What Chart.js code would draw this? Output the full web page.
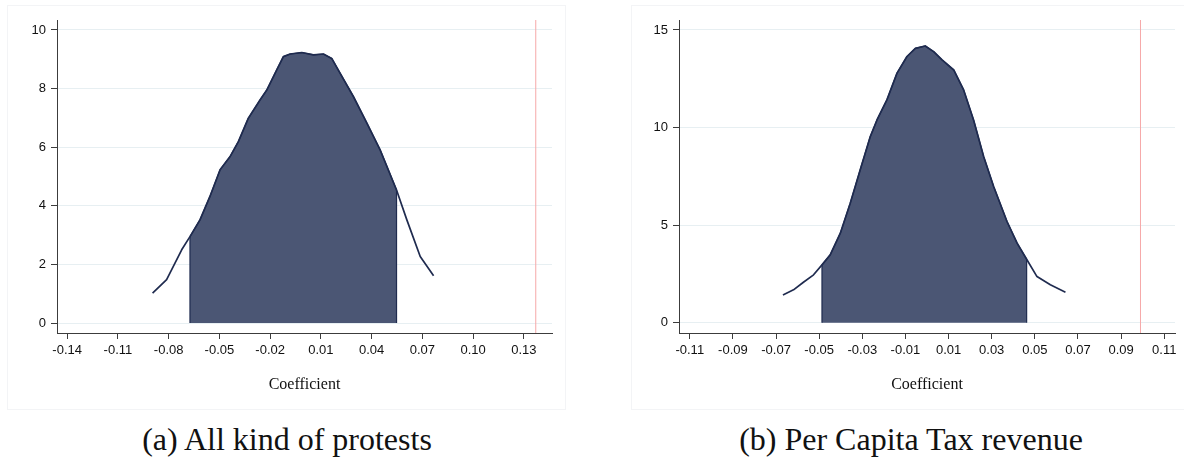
<!DOCTYPE html>
<html>
<head>
<meta charset="utf-8">
<script src="https://cdn.jsdelivr.net/npm/chart.js@4"></script>
<style>
    html, body { margin: 0; padding: 0; background: #fff; }
    body { width: 1184px; height: 460px; position: relative; overflow: hidden; }
    .panel { position: absolute; top: 5px; height: 405px; box-sizing: border-box; border: 1px solid #f3f4f6; background: #fff; }
    #panelA { left: 7px; width: 559px; }
    #panelB { left: 631px; width: 560px; }
    .panel canvas { position: absolute; left: -1px; top: -1px; }
    .caption { position: absolute; top: 419px; font-family: "Liberation Serif", serif; font-size: 32px; line-height: 40px; color: #111; text-align: center; white-space: nowrap; }
    #capA { left: 87px; width: 400px; }
    #capB { left: 711px; width: 400px; }
</style>
</head>
<body>
<div class="panel" id="panelA"><canvas id="chartA" width="559" height="405"></canvas></div>
<div class="panel" id="panelB"><canvas id="chartB" width="553" height="405"></canvas></div>
<div class="caption" id="capA">(a) All kind of protests</div>
<div class="caption" id="capB">(b) Per Capita Tax revenue</div>

<script>
(function () {
    "use strict";

    // -----------------------------------------------------------
    //  Data
    // -----------------------------------------------------------
    // (a) All kind of protests: kernel density of the coefficient
    var protestX = [-0.0895, -0.0812, -0.0723, -0.0674, -0.0615, -0.0556, -0.0496, -0.0437, -0.0388, -0.0329,
                    -0.0260, -0.0220, -0.0161, -0.0122, -0.0082, -0.0013, 0.0056, 0.0115, 0.0164, 0.0214,
                    0.0292, 0.0372, 0.0450, 0.0547, 0.0608, 0.0687, 0.0766];
    var protestY = [1.02, 1.48, 2.50, 2.95, 3.52, 4.32, 5.23, 5.68, 6.19, 6.99,
                    7.61, 7.95, 8.64, 9.09, 9.18, 9.23, 9.15, 9.18, 9.03, 8.52,
                    7.73, 6.82, 5.91, 4.54, 3.52, 2.27, 1.61];
    var protestShade = [-0.0674, 0.0547];
    var protestActual = 0.137;
    var protestXTicks = [-0.14, -0.11, -0.08, -0.05, -0.02, 0.01, 0.04, 0.07, 0.10, 0.13];
    var protestYTicks = [0, 2, 4, 6, 8, 10];

    // (b) Per Capita Tax revenue
    var taxX = [-0.0668, -0.0619, -0.0573, -0.0526, -0.0487, -0.0449, -0.0402, -0.0356, -0.0310, -0.0263,
                -0.0232, -0.0186, -0.0139, -0.0093, -0.0054, -0.0008, 0.0031, 0.0070, 0.0124, 0.0170,
                0.0216, 0.0263, 0.0309, 0.0371, 0.0418, 0.0462, 0.0510, 0.0572, 0.0642];
    var taxY = [1.43, 1.69, 2.08, 2.46, 2.97, 3.48, 4.59, 6.13, 7.83, 9.54,
                10.39, 11.42, 12.79, 13.64, 14.06, 14.18, 13.89, 13.47, 12.95, 11.93,
                10.39, 8.51, 6.98, 5.19, 4.08, 3.26, 2.37, 1.95, 1.57];
    var taxShade = [-0.0487, 0.0462];
    var taxActual = 0.099;
    var taxXTicks = [-0.11, -0.09, -0.07, -0.05, -0.03, -0.01, 0.01, 0.03, 0.05, 0.07, 0.09, 0.11];
    var taxYTicks = [0, 5, 10, 15];

    // -----------------------------------------------------------
    //  Style
    // -----------------------------------------------------------
    var NAVY = "#1f2b4f";
    var FILL = "#4b5674";
    var REDLINE = "#f6a9a9";
    var AXIS = "#3c3c3c";
    var GRID = "#e7eff2";
    var TICK_FONT = { family: "'Liberation Sans', Arial, sans-serif", size: 13 };

    function toPoints(xs, ys) {
        return xs.map(function (x, i) { return { x: x, y: ys[i] }; });
    }

    function makeDensityChart(canvasId, cfg) {
        var curve = toPoints(cfg.x, cfg.y);
        var lo = cfg.shade[0], hi = cfg.shade[1];
        var shaded = curve.filter(function (p) { return p.x >= lo && p.x <= hi; });
        shaded.unshift({ x: lo, y: 0 });
        shaded.push({ x: hi, y: 0 });

        return new Chart(document.getElementById(canvasId), {
            type: "line",
            data: {
                datasets: [
                    {
                        data: curve,
                        borderColor: NAVY,
                        borderWidth: 1.7,
                        borderJoinStyle: "round",
                        pointRadius: 0,
                        tension: 0,
                        fill: false,
                        order: 1
                    },
                    {
                        data: shaded,
                        borderColor: NAVY,
                        borderWidth: 1.2,
                        backgroundColor: FILL,
                        pointRadius: 0,
                        tension: 0,
                        fill: "origin",
                        order: 2
                    },
                    {
                        data: [{ x: cfg.actual, y: cfg.yMin }, { x: cfg.actual, y: cfg.yMax }],
                        borderColor: REDLINE,
                        borderWidth: 1,
                        pointRadius: 0,
                        fill: false,
                        order: 3
                    }
                ]
            },
            options: {
                responsive: false,
                animation: false,
                events: [],
                layout: { padding: { top: 15, right: cfg.padRight, left: 0, bottom: 0 } },
                plugins: { legend: { display: false }, tooltip: { enabled: false } },
                scales: {
                    x: {
                        type: "linear",
                        min: cfg.xMin,
                        max: cfg.xMax,
                        afterFit: function (scale) { scale.height = 77; },
                        afterBuildTicks: function (scale) {
                            scale.ticks = cfg.xTicks.map(function (v) { return { value: v }; });
                        },
                        ticks: {
                            autoSkip: false,
                            maxRotation: 0,
                            padding: 4,
                            color: "#111",
                            font: TICK_FONT,
                            callback: function (v) { return Number(v).toFixed(2); }
                        },
                        grid: { drawOnChartArea: false, drawTicks: true, tickLength: 6, tickColor: AXIS },
                        border: { display: true, color: AXIS, width: 1 },
                        title: {
                            display: true,
                            text: "Coefficient",
                            color: "#111",
                            font: { family: "'Liberation Serif', 'Times New Roman', serif", size: 16 },
                            padding: { top: 0, bottom: 16 }
                        }
                    },
                    y: {
                        min: cfg.yMin,
                        max: cfg.yMax,
                        afterFit: function (scale) { scale.width = cfg.yWidth; },
                        afterBuildTicks: function (scale) {
                            scale.ticks = cfg.yTicks.map(function (v) { return { value: v }; });
                        },
                        ticks: {
                            padding: 5,
                            color: "#111",
                            font: TICK_FONT,
                            callback: function (v) { return String(v); }
                        },
                        grid: { color: GRID, lineWidth: 1, drawTicks: true, tickLength: 6, tickColor: AXIS },
                        border: { display: true, color: AXIS, width: 1 }
                    }
                }
            }
        });
    }

    // -----------------------------------------------------------
    //  Build both panels
    // -----------------------------------------------------------
    makeDensityChart("chartA", {
        x: protestX, y: protestY, shade: protestShade, actual: protestActual,
        xTicks: protestXTicks, yTicks: protestYTicks,
        xMin: -0.146, xMax: 0.1466, yMin: -0.34, yMax: 10.34,
        yWidth: 50, padRight: 14
    });

    makeDensityChart("chartB", {
        x: taxX, y: taxY, shade: taxShade, actual: taxActual,
        xTicks: taxXTicks, yTicks: taxYTicks,
        xMin: -0.115, xMax: 0.115, yMin: -0.52, yMax: 15.51,
        yWidth: 48, padRight: 9
    });
})();
</script>
</body>
</html>
